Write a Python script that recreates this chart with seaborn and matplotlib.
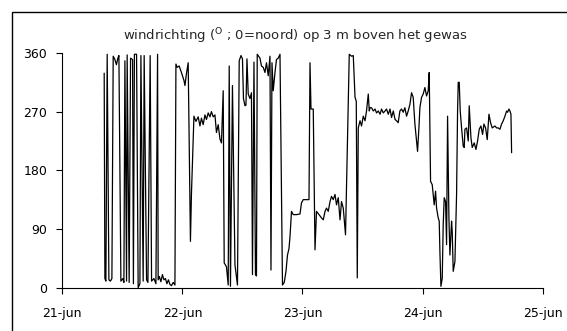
import numpy as np
import pandas as pd
import matplotlib
matplotlib.use("Agg")
import matplotlib.pyplot as plt
import seaborn as sns
from matplotlib.patches import Rectangle

# ---------------- Data ----------------
# hours since 21-jun 00:00
hours = [
    8.36, 8.5, 8.7, 8.96, 9.3, 9.6, 9.9, 10.16, 10.5, 10.8, 11.1, 11.3, 11.7, 12.1, 12.3,
    12.5, 12.83, 12.95, 13.35, 13.63, 14.03, 14.2, 14.4, 14.83, 15.15, 15.5, 15.7, 16.15,
    16.35, 16.83, 17.1, 17.55, 17.83, 18.3, 18.7, 19.03, 19.15, 19.4, 19.7, 20.0, 20.3,
    20.6, 20.9, 21.2, 21.5, 21.8, 22.15, 22.5,
    22.7, 22.95, 23.35, 23.8, 24.3, 24.5, 24.8, 25.15, 25.6, 25.8, 26.3, 26.7, 27.15, 27.5,
    27.8, 28.15, 28.5, 28.8, 29.15, 29.5, 29.8, 30.15, 30.5, 30.8, 31.15, 31.5, 31.8, 32.15,
    32.35, 32.8, 33.15, 33.35, 33.6, 34.0, 34.5, 35.0, 35.35, 35.7, 36.0, 36.2, 36.5, 36.7,
    36.9, 37.15, 37.5, 37.8, 38.0, 38.3, 38.6, 38.8, 38.95, 39.5, 39.8, 40.15, 40.5, 40.8,
    41.15, 41.5, 41.7, 41.9, 42.15, 42.5, 42.8, 43.15, 43.5, 44.0, 44.35, 44.7, 45.0, 45.3,
    45.5, 45.8, 46.15, 46.8, 47.5, 47.8, 48.15, 49.3, 49.5, 49.7, 50.15, 50.5, 50.8, 51.5,
    51.8, 52.15, 52.5, 52.8, 53.15, 53.5, 53.8, 54.15, 54.5, 54.8, 55.15, 55.5, 55.8, 56.15,
    56.6, 57.35, 57.8, 58.15, 58.5, 58.75, 58.95, 59.15, 59.5, 59.8, 60.15, 60.5, 60.8,
    61.15, 61.35, 61.5, 61.8, 62.15, 62.5, 62.8, 63.15, 63.5, 63.8, 64.15, 64.5, 64.8,
    65.15, 65.5, 65.8, 66.15, 66.5, 66.8, 67.13, 67.47, 67.8, 68.13, 68.47, 68.8, 69.13,
    69.47, 69.8, 70.13, 70.47, 70.8, 71.0, 71.27, 71.47, 71.8, 72.13, 72.47, 72.8, 73.13,
    73.33, 73.6, 73.93, 74.13, 74.33, 74.6, 74.8, 75.13, 75.33, 75.47, 75.67, 75.93, 76.13,
    76.33, 76.6, 76.8, 77.0, 77.27, 77.47, 77.8, 77.93, 78.13, 78.47, 78.8, 79.0, 79.13,
    79.33, 79.53, 79.8, 80.13, 80.33, 80.47, 80.8, 81.13, 81.33, 81.67, 81.93, 82.33, 82.67,
    83.0, 83.33, 83.67, 84.0, 84.27, 84.6, 84.93, 85.27, 85.6, 85.93, 86.47, 86.8, 87.13,
    87.47, 87.8, 88.13, 88.47, 88.8, 89.0, 89.27, 89.47, 89.67, 89.8,
]
wind_dir = [
    329, 14, 10, 358, 12, 10, 14, 355, 350, 342, 352, 356, 10, 14, 8,
    348, 10, 357, 8, 352, 350, 6, 358, 358, 0, 6, 356, 10,
    356, 12, 8, 356, 10, 14, 6, 358, 12, 17, 9, 20, 12,
    14, 6, 12, 5, 3, 8, 4,
    343, 338, 340, 330, 318, 310, 328, 345, 71, 143, 263, 255, 262, 248,
    260, 250, 265, 258, 268, 262, 270, 262, 265, 238, 250, 228, 222, 302,
    38, 32, 4, 340, 2, 310, 35, 4, 348, 356, 351, 290, 279, 280,
    351, 297, 290, 299, 20, 346, 20, 18, 358, 352, 340, 338, 330, 345,
    325, 355, 27, 345, 302, 330, 350, 352, 358, 4, 8, 25, 50, 60,
    78, 117, 112, 112, 113, 130, 135, 135, 345, 274, 274, 58, 117, 110,
    107, 104, 117, 122, 117, 132, 140, 135, 143, 127, 138, 104, 132, 122,
    81, 358, 355, 356, 292, 286, 15, 245, 256, 248, 263, 256, 271,
    297, 271, 276, 276, 271, 274, 268, 271, 266, 274, 268, 271, 274,
    266, 274, 261, 271, 258, 256, 253, 271, 274, 269, 276, 263, 271,
    281, 299, 292, 251, 225, 209, 245, 276, 292, 297, 307, 294, 302,
    330, 163, 158, 143, 127, 148, 122, 107, 102, 55, 2, 14, 97,
    138, 132, 66, 263, 107, 50, 102, 86, 25, 40, 143, 271, 315,
    315, 271, 245, 217, 215, 243, 245, 225, 279, 230, 215, 222, 212,
    225, 243, 248, 235, 251, 245, 227, 266, 253, 245, 248, 245, 245,
    243, 251, 256, 263, 271, 269, 274, 271, 266, 207,
]
y_ticks = [0, 90, 180, 270, 360]
x_tick_labels = ["21-jun", "22-jun", "23-jun", "24-jun", "25-jun"]

start = pd.Timestamp("2000-06-21")
df = pd.DataFrame({
    "tijd": start + pd.to_timedelta(hours, unit="h"),
    "richting": wind_dir,
})

# ---------------- Plot ----------------
sns.set_style("ticks")
plt.rcParams["font.family"] = ["DejaVu Sans"]
plt.rcParams["mathtext.fontset"] = "dejavusans"

fig, ax = plt.subplots(figsize=(5.67, 3.31), dpi=100)
fig.subplots_adjust(left=0.110, right=0.957, bottom=0.131, top=0.840)

sns.lineplot(data=df, x="tijd", y="richting", color="black", linewidth=0.9, ax=ax)

ax.set_ylim(0, 360)
ax.set_yticks(y_ticks)
ax.set_xlim(start, start + pd.Timedelta(days=4))
ax.set_xticks(pd.date_range(start, periods=len(x_tick_labels), freq="D"))
ax.set_xticklabels(x_tick_labels)
ax.set_xlabel("")
ax.set_ylabel("")
sns.despine(ax=ax)
for side in ["left", "bottom"]:
    ax.spines[side].set_color("black")
    ax.spines[side].set_linewidth(0.8)
ax.tick_params(axis="both", direction="out", length=4, width=0.8, colors="black", labelsize=9)
ax.tick_params(axis="y", pad=7)
ax.tick_params(axis="x", pad=10)

fig.text(0.520, 0.891, r"windrichting ($^{\mathrm{O}}$ ; 0=noord) op 3 m boven het gewas",
         ha="center", va="center", fontsize=9.5)

# chart frame (only left and top edges fall inside the picture)
fig.patches.append(Rectangle((12 / 567, -1), 2, 1 + 1 - 12 / 331, transform=fig.transFigure,
                             fill=False, edgecolor="black", linewidth=1))

fig.savefig("out.png", dpi=100)
